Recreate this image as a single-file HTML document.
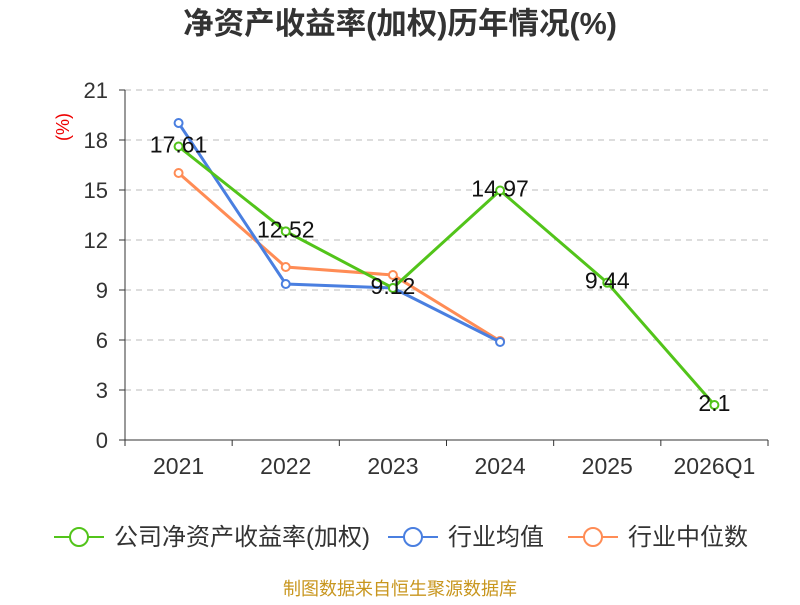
<!DOCTYPE html>
<html><head><meta charset="utf-8"><style>
body{margin:0;background:#fff;}
svg text{font-family:"Liberation Sans","Noto Sans CJK SC",sans-serif;}
</style></head><body>
<svg id="c" width="800" height="600">
<text x="400" y="34" text-anchor="middle" font-size="30.5" font-weight="bold" fill="#333">净资产收益率(加权)历年情况(%)</text>
<text transform="translate(69,127) rotate(-90)" text-anchor="middle" font-size="18" fill="#e00">(%)</text>
<g id="grid"></g><g id="axes"></g><g id="series"></g>
<g>
<g><line x1="54" y1="537" x2="104" y2="537" stroke="#52c41a" stroke-width="2"/><circle cx="79" cy="537" r="9" fill="#fff" stroke="#52c41a" stroke-width="2"/><text x="114" y="545" font-size="24" fill="#333">公司净资产收益率(加权)</text></g>
<g><line x1="388" y1="537" x2="438" y2="537" stroke="#4a7fe0" stroke-width="2"/><circle cx="413" cy="537" r="9" fill="#fff" stroke="#4a7fe0" stroke-width="2"/><text x="448" y="545" font-size="24" fill="#333">行业均值</text></g>
<g><line x1="568" y1="537" x2="618" y2="537" stroke="#ff8c55" stroke-width="2"/><circle cx="593" cy="537" r="9" fill="#fff" stroke="#ff8c55" stroke-width="2"/><text x="628" y="545" font-size="24" fill="#333">行业中位数</text></g>
</g>
<text x="400" y="595" text-anchor="middle" font-size="18" fill="#c8961e">制图数据来自恒生聚源数据库</text>
</svg>
<script>
const categories=["2021","2022","2023","2024","2025","2026Q1"];
const companyValues=[17.61,12.52,9.12,14.97,9.44,2.1];
const industryAvg=[19.02,9.36,9.12,5.88];
const industryMedian=[16.02,10.38,9.9,5.94];
const yTicks=[0,3,6,9,12,15,18,21];
const ns="http://www.w3.org/2000/svg";
const L=125,R=768,T=90,B=440,yMax=21;
const bw=(R-L)/categories.length;
const xs=i=>L+bw*(i+0.5);
const ys=v=>B-(v/yMax)*(B-T);
function mk(p,tag,a){const e=document.createElementNS(ns,tag);for(const k in a)e.setAttribute(k,a[k]);p.appendChild(e);return e;}
const grid=document.getElementById('grid'),axes=document.getElementById('axes'),ser=document.getElementById('series');
yTicks.forEach(v=>{
 if(v>0){const g=mk(grid,'line',{x1:L,x2:R,y1:ys(v),y2:ys(v),stroke:'#bbb','stroke-dasharray':'6,5'});
 
 }
 const t=mk(axes,'line',{x1:L-6,x2:L,y1:ys(v),y2:ys(v),stroke:'#333'});
 
 
 const tx=mk(axes,'text',{x:L-17,y:ys(v)+8,'text-anchor':'end','font-size':22,fill:'#333'});tx.textContent=v;
 
 
});
const ya=mk(axes,'line',{x1:L,x2:L,y1:T,y2:B,stroke:'#333'});


const xa=mk(axes,'line',{x1:L,x2:R,y1:B,y2:B,stroke:'#333'});


for(let i=0;i<=categories.length;i++){const t=mk(axes,'line',{x1:L+bw*i,x2:L+bw*i,y1:B,y2:B+6,stroke:'#333'});
 
 }
categories.forEach((c,i)=>{const t=mk(axes,'text',{x:xs(i),y:B+34,'text-anchor':'middle','font-size':23,fill:'#333'});t.textContent=c;
 
 });
function series(vals,color,name,labels){
 const g=mk(ser,'g',{});
 
 
 mk(g,'polyline',{points:vals.map((v,i)=>xs(i)+','+ys(v)).join(' '),fill:'none',stroke:color,'stroke-width':3});
 vals.forEach((v,i)=>{const c=mk(g,'circle',{cx:xs(i),cy:ys(v),r:4,fill:'#fff',stroke:color,'stroke-width':2});
  
  
  if(labels){const t=mk(g,'text',{x:xs(i),y:ys(v)+6,'text-anchor':'middle','font-size':23,fill:'#111'});t.textContent=v;
   
   }});
}
series(industryMedian,'#ff8c55','industry-median-series',false);
series(industryAvg,'#4a7fe0','industry-avg-series',false);
series(companyValues,'#52c41a','company-roe-series',true);
</script>
</body></html>
